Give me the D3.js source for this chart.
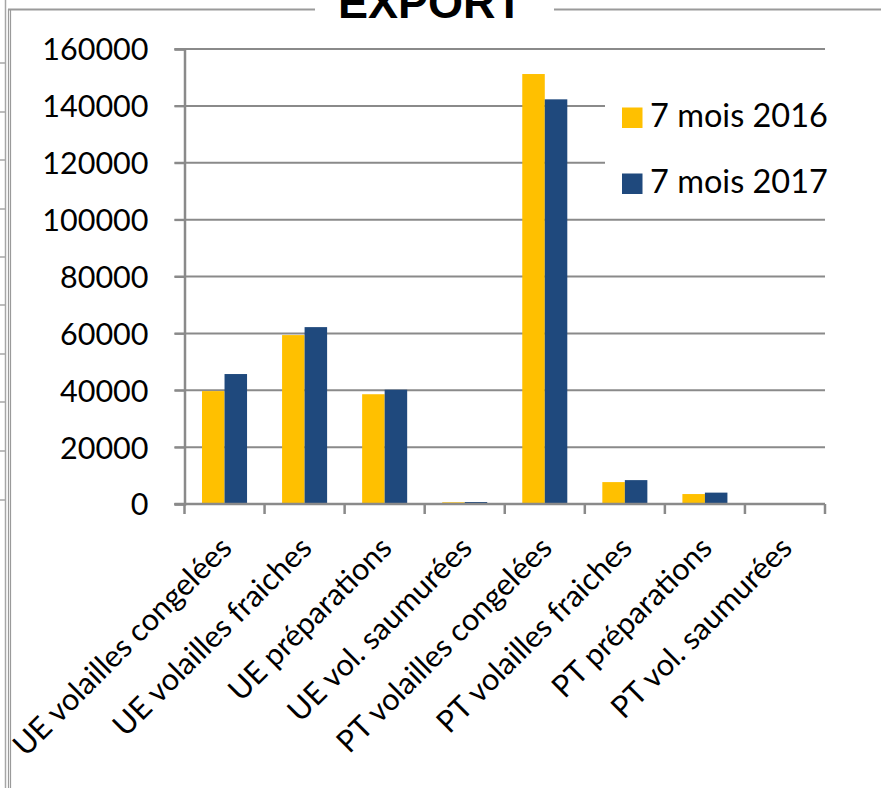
<!DOCTYPE html>
<html>
<head>
<meta charset="utf-8">
<script src="https://cdn.jsdelivr.net/npm/d3@7/dist/d3.min.js"></script>
<style>
  html, body { margin: 0; padding: 0; background: #fff; }
  svg { display: block; }
</style>
</head>
<body>
<svg id="chart" width="881" height="788"></svg>
<script>
const categories = [
  "UE volailles congelées",
  "UE volailles fraiches",
  "UE préparations",
  "UE vol. saumurées",
  "PT volailles congelées",
  "PT volailles fraiches",
  "PT préparations",
  "PT vol. saumurées"
];
const seriesNames = ["7 mois 2016", "7 mois 2017"];
const values2016 = [39700, 59400, 38600, 600, 151200, 7700, 3500, 0];
const values2017 = [45700, 62200, 40200, 700, 142300, 8400, 4000, 0];
const yTicks = [0, 20000, 40000, 60000, 80000, 100000, 120000, 140000, 160000];
const colors = ["#FFC000", "#1F497D"];
const title = "EXPORT";

(function () {
const svg = d3.select("#chart");
const W = 881, H = 788;
const FONT = "Lato, 'Open Sans', sans-serif";

// frame decorations
const frame = svg.append("g");
frame.append("line").attr("x1", 5.5).attr("x2", 5.5).attr("y1", 0).attr("y2", H)
  .attr("stroke", "#a6a6a6").attr("stroke-width", 1.5);
[63, 112, 160, 209, 257, 305, 354, 402, 451, 500].forEach(yy => {
  frame.append("line").attr("x1", 0).attr("x2", 5).attr("y1", yy).attr("y2", yy)
    .attr("stroke", "#a6a6a6").attr("stroke-width", 1.5);
});
frame.append("line").attr("x1", 8.5).attr("x2", 8.5).attr("y1", 9).attr("y2", H)
  .attr("stroke", "#9a9a9a").attr("stroke-width", 1.2);
frame.append("line").attr("x1", 10.5).attr("x2", 10.5).attr("y1", 9).attr("y2", H)
  .attr("stroke", "#9a9a9a").attr("stroke-width", 1.2);
frame.append("line").attr("x1", 8).attr("x2", 315).attr("y1", 9.5).attr("y2", 9.5)
  .attr("stroke", "#9a9a9a").attr("stroke-width", 2);
frame.append("line").attr("x1", 554).attr("x2", W).attr("y1", 9.5).attr("y2", 9.5)
  .attr("stroke", "#9a9a9a").attr("stroke-width", 2);

svg.append("text").attr("x", 430.5).attr("y", 18)
  .attr("text-anchor", "middle")
  .attr("font-family", "'Liberation Sans', Arial, sans-serif")
  .attr("font-weight", "bold").attr("font-size", 45)
  .attr("fill", "#000").text(title);

// scales
const pLeft = 184.5, pRight = 825, pTop = 49, pBottom = 504;
const y = d3.scaleLinear().domain([0, 160000]).range([pBottom, pTop]);
const x0 = d3.scaleBand().domain(categories).range([pLeft, pRight]).padding(0);
const x1 = d3.scaleBand().domain(seriesNames).range([0, x0.bandwidth()])
  .paddingInner(0).paddingOuter(0.778);

const gridColor = "#8a8a8a";

// gridlines
svg.append("g").selectAll("line").data(yTicks).join("line")
  .attr("x1", pLeft - 10).attr("x2", pRight)
  .attr("y1", d => y(d)).attr("y2", d => y(d))
  .attr("stroke", gridColor).attr("stroke-width", 2);

// y axis
const yAxis = svg.append("g").attr("transform", `translate(${pLeft},0)`)
  .call(d3.axisLeft(y).tickValues(yTicks).tickSize(10).tickPadding(26).tickFormat(d3.format("d")));
yAxis.select(".domain").attr("stroke", gridColor).attr("stroke-width", 2.5);
yAxis.selectAll(".tick line").attr("stroke", gridColor).attr("stroke-width", 2);
yAxis.selectAll("text").attr("font-family", FONT).attr("font-size", 30.5).attr("fill", "#000")
  .attr("dy", "0.36em");

// legend background (hides gridlines)
svg.append("rect").attr("x", 605).attr("y", 92).attr("width", 230).attr("height", 118)
  .attr("fill", "#fff");

// bars
const data = categories.map((c, i) => ({ cat: c, vals: [values2016[i], values2017[i]] }));
const groups = svg.append("g").selectAll("g").data(data).join("g")
  .attr("transform", d => `translate(${x0(d.cat)},0)`);
groups.selectAll("rect").data(d => d.vals.map((v, k) => ({ name: seriesNames[k], v, k })))
  .join("rect")
  .attr("x", d => x1(d.name))
  .attr("width", x1.bandwidth())
  .attr("y", d => y(d.v))
  .attr("height", d => pBottom - y(d.v))
  .attr("fill", d => colors[d.k]);

// x axis
const xAxis = svg.append("g").attr("transform", `translate(0,${pBottom})`);
xAxis.append("line").attr("x1", pLeft - 10).attr("x2", pRight).attr("y1", 0).attr("y2", 0)
  .attr("stroke", gridColor).attr("stroke-width", 2.5);
const tickXs = categories.map(c => x0(c)).concat([pRight]);
xAxis.selectAll("line.t").data(tickXs).join("line").attr("class", "t")
  .attr("x1", d => d).attr("x2", d => d).attr("y1", 0).attr("y2", 10)
  .attr("stroke", gridColor).attr("stroke-width", 2.5);
xAxis.selectAll("text").data(categories).join("text")
  .attr("transform", d => `translate(${x0(d) + x0.bandwidth() / 2 + 9},${46}) rotate(-45)`)
  .attr("text-anchor", "end")
  .attr("font-family", FONT).attr("font-size", 30.5).attr("fill", "#000")
  .text(d => d);

// legend
const legend = svg.append("g");
seriesNames.forEach((n, i) => {
  const ly = 107.5 + i * 66;
  legend.append("rect").attr("x", 622).attr("y", ly).attr("width", 20.5).attr("height", 20.5)
    .attr("fill", colors[i]);
  legend.append("text").attr("x", 650).attr("y", ly + 19.5)
    .attr("font-family", FONT).attr("font-size", 32.5).attr("fill", "#000").text(n);
});
})();
</script>
</body>
</html>
